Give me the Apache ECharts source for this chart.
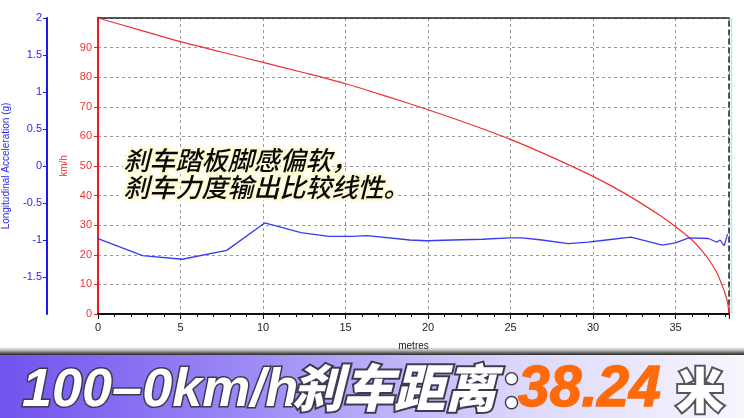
<!DOCTYPE html>
<html>
<head>
<meta charset="utf-8">
<script src="https://cdn.jsdelivr.net/npm/echarts@6/dist/echarts.min.js"></script>
<style>
html,body{margin:0;padding:0;background:#fff;}
#c{width:744px;height:418px;}
</style>
</head>
<body>
<div id="c"></div>
<script>
// distance (m) vs speed (km/h)
var speedDist = [0, 2.5, 5, 7.5, 10, 12.5, 15, 17.5, 20, 22.5, 25, 27.5, 30, 32, 34, 35, 36, 36.5, 37, 37.5, 37.8, 38, 38.15, 38.24];
var speedKmh  = [100, 96, 92, 88.5, 85, 81.5, 77.8, 73.5, 69, 64.2, 59, 53, 46.5, 40.5, 33.5, 29.5, 25, 22, 18.5, 14, 10, 7, 4, 0];
// distance (m) vs longitudinal acceleration (g)
var accDist = [0, 2.7, 5.1, 7.8, 10.1, 12.3, 14, 15.4, 16.3, 18.9, 19.9, 21.5, 23.3, 24.9, 25.7, 26.9, 28.5, 29.7, 30.8, 32.3, 34.2, 35, 35.8, 37, 37.5, 37.7, 37.95, 38.15];
var accG    = [-0.98, -1.21, -1.26, -1.14, -0.77, -0.9, -0.95, -0.95, -0.94, -1.0, -1.01, -1.0, -0.99, -0.97, -0.97, -1.0, -1.05, -1.03, -1.0, -0.96, -1.07, -1.04, -0.97, -0.98, -1.03, -1.0, -1.08, -0.92];

var xMax = 38.24;
var speedTicks = {min: 0, max: 100, interval: 10};
var accTicks = {min: -2, max: 2, interval: 0.5};

var noteText = '刹车踏板脚感偏软，\n刹车力度输出比较线性。';
var bannerA = '100–0km/h';
var bannerB = '刹车距离';
var bannerC = '：';
var bannerD = '38.24';
var bannerE = '米';

function pairs(xs, ys){ return xs.map(function(x,i){return [x, ys[i]];}); }

var chart = echarts.init(document.getElementById('c'));
var fontLbl = '"Liberation Sans", Arial, sans-serif';
var gridDash = {color:'#9a9a9a', type:[3,3], width:1};
var outline = {stroke:'#3a3a50', lineWidth:3, strokeFirst:true,
  shadowColor:'rgba(0,0,0,0.5)', shadowBlur:4, shadowOffsetX:1, shadowOffsetY:2};
function st(o){ var r = {}; for (var k in outline) r[k] = outline[k]; for (var k2 in o) r[k2] = o[k2]; return r; }

chart.setOption({
  animation:false,
  backgroundColor:'#fff',
  grid:{left:98, right:15, top:18, bottom:104, containLabel:false, outerBoundsMode:'none'},
  xAxis:[{
    type:'value', min:0, max:xMax, interval:5,
    name:'metres', nameLocation:'middle', nameGap:27,
    nameTextStyle:{color:'#222', fontSize:10, fontFamily:fontLbl},
    axisLine:{show:true, onZero:false, lineStyle:{color:'#111', width:2}},
    axisTick:{show:true, inside:false, length:5, lineStyle:{color:'#111'}},
    minorTick:{show:true, splitNumber:5, length:3, lineStyle:{color:'#111'}},
    axisLabel:{color:'#222', fontSize:11, fontFamily:fontLbl, margin:8, showMaxLabel:false},
    splitLine:{show:true, lineStyle:gridDash}
  },{
    type:'value', min:0, max:xMax, position:'top',
    axisLine:{show:true, onZero:false, lineStyle:{color:'#222', width:1.5}},
    axisTick:{show:false}, axisLabel:{show:false}, splitLine:{show:false}
  }],
  yAxis:[{
    type:'value', min:speedTicks.min, max:speedTicks.max, interval:speedTicks.interval,
    position:'left', offset:0,
    name:'km/h', nameLocation:'middle', nameGap:21, nameRotate:90,
    nameTextStyle:{color:'#ee3333', fontSize:10, fontFamily:fontLbl},
    axisLine:{show:true, onZero:false, lineStyle:{color:'#ee1c1c', width:2}},
    axisTick:{show:true, length:4, lineStyle:{color:'#ee1c1c'}},
    axisLabel:{color:'#ee3333', fontSize:11, fontFamily:fontLbl, margin:6, showMaxLabel:false},
    splitLine:{show:true, lineStyle:gridDash}
  },{
    type:'value', min:accTicks.min, max:accTicks.max, interval:accTicks.interval,
    position:'left', offset:51,
    name:'Longitudinal Acceleration (g)', nameLocation:'middle', nameGap:36, nameRotate:90,
    nameTextStyle:{color:'#2a2aee', fontSize:10, fontFamily:fontLbl},
    axisLine:{show:true, onZero:false, lineStyle:{color:'#1a1aee', width:2}},
    axisTick:{show:true, length:4, lineStyle:{color:'#1a1aee'}},
    axisLabel:{color:'#2a2aee', fontSize:11, fontFamily:fontLbl, margin:5, showMinLabel:false},
    splitLine:{show:false}
  },{
    type:'value', min:0, max:1, position:'right', offset:0,
    axisLine:{show:true, onZero:false, lineStyle:{color:'#222', width:1.5, type:[5,4]}},
    axisTick:{show:false}, axisLabel:{show:false}, splitLine:{show:false}
  }],
  series:[{
    type:'line', name:'speed', xAxisIndex:0, yAxisIndex:0,
    data:pairs(speedDist, speedKmh), smooth:0.3, showSymbol:false,
    lineStyle:{color:'#f03030', width:1.2}, z:3
  },{
    type:'line', name:'acc', xAxisIndex:0, yAxisIndex:1,
    data:pairs(accDist, accG), showSymbol:false,
    lineStyle:{color:'#3a3af0', width:1.3}, z:4
  }],
  graphic:[
    {type:'line', z:2, shape:{x1:731.5, y1:18, x2:731.5, y2:314},
      style:{stroke:'#a8eef2', lineWidth:1.5}},
    {type:'text', left:121, top:145, z:10, style:{
      text:noteText, font:'italic 500 26px "Noto Sans CJK SC", sans-serif', lineHeight:27,
      fill:'#0a0a0a', stroke:'#fffbd6', lineWidth:5, strokeFirst:true}},
    {type:'rect', left:0, top:347, z:20, shape:{width:744, height:8},
      style:{fill:{type:'linear', x:0, y:0, x2:0, y2:1, colorStops:[
        {offset:0, color:'rgba(0,0,0,0)'}, {offset:0.5, color:'rgba(0,0,0,0.35)'}, {offset:1, color:'#2a2a2a'}]}}},
    {type:'rect', left:0, top:355, z:20, shape:{width:744, height:63},
      style:{fill:{type:'linear', x:0, y:0, x2:1, y2:0, colorStops:[
        {offset:0, color:'#7252ee'}, {offset:0.35, color:'#a08cf6'}, {offset:0.7, color:'#dcd8fa'}, {offset:1, color:'#f7f6fd'}]}}},
    {type:'text', x:22, y:391, z:21, style:st({
      text:bannerA, font:'italic bold 54px "Liberation Sans", Arial, sans-serif',
      fill:'#fff', verticalAlign:'middle'})},
    {type:'text', x:292, y:388, z:21, style:st({
      text:bannerB, font:'italic 900 51px "Noto Sans CJK SC", sans-serif',
      fill:'#fff', lineWidth:4, verticalAlign:'middle'})},
    {type:'text', x:499, y:388, z:21, style:st({
      text:bannerC, font:'900 50px "Noto Sans CJK SC", sans-serif',
      fill:'#fff', verticalAlign:'middle'})},
    {type:'text', x:518, y:390, z:21, style:{
      text:bannerD, font:'italic bold 57px "Liberation Sans", Arial, sans-serif',
      fill:'#ff6a0a', stroke:'#ff6a0a', lineWidth:1.5, verticalAlign:'middle',
      shadowColor:'rgba(0,0,0,0.25)', shadowBlur:3, shadowOffsetX:1, shadowOffsetY:1}},
    {type:'text', x:676, y:390, z:21, style:st({
      text:bannerE, font:'900 48px "Noto Sans CJK SC", sans-serif',
      fill:'#fff', stroke:'#55555f', lineWidth:4, verticalAlign:'middle'})}
  ]
});
</script>
</body>
</html>
